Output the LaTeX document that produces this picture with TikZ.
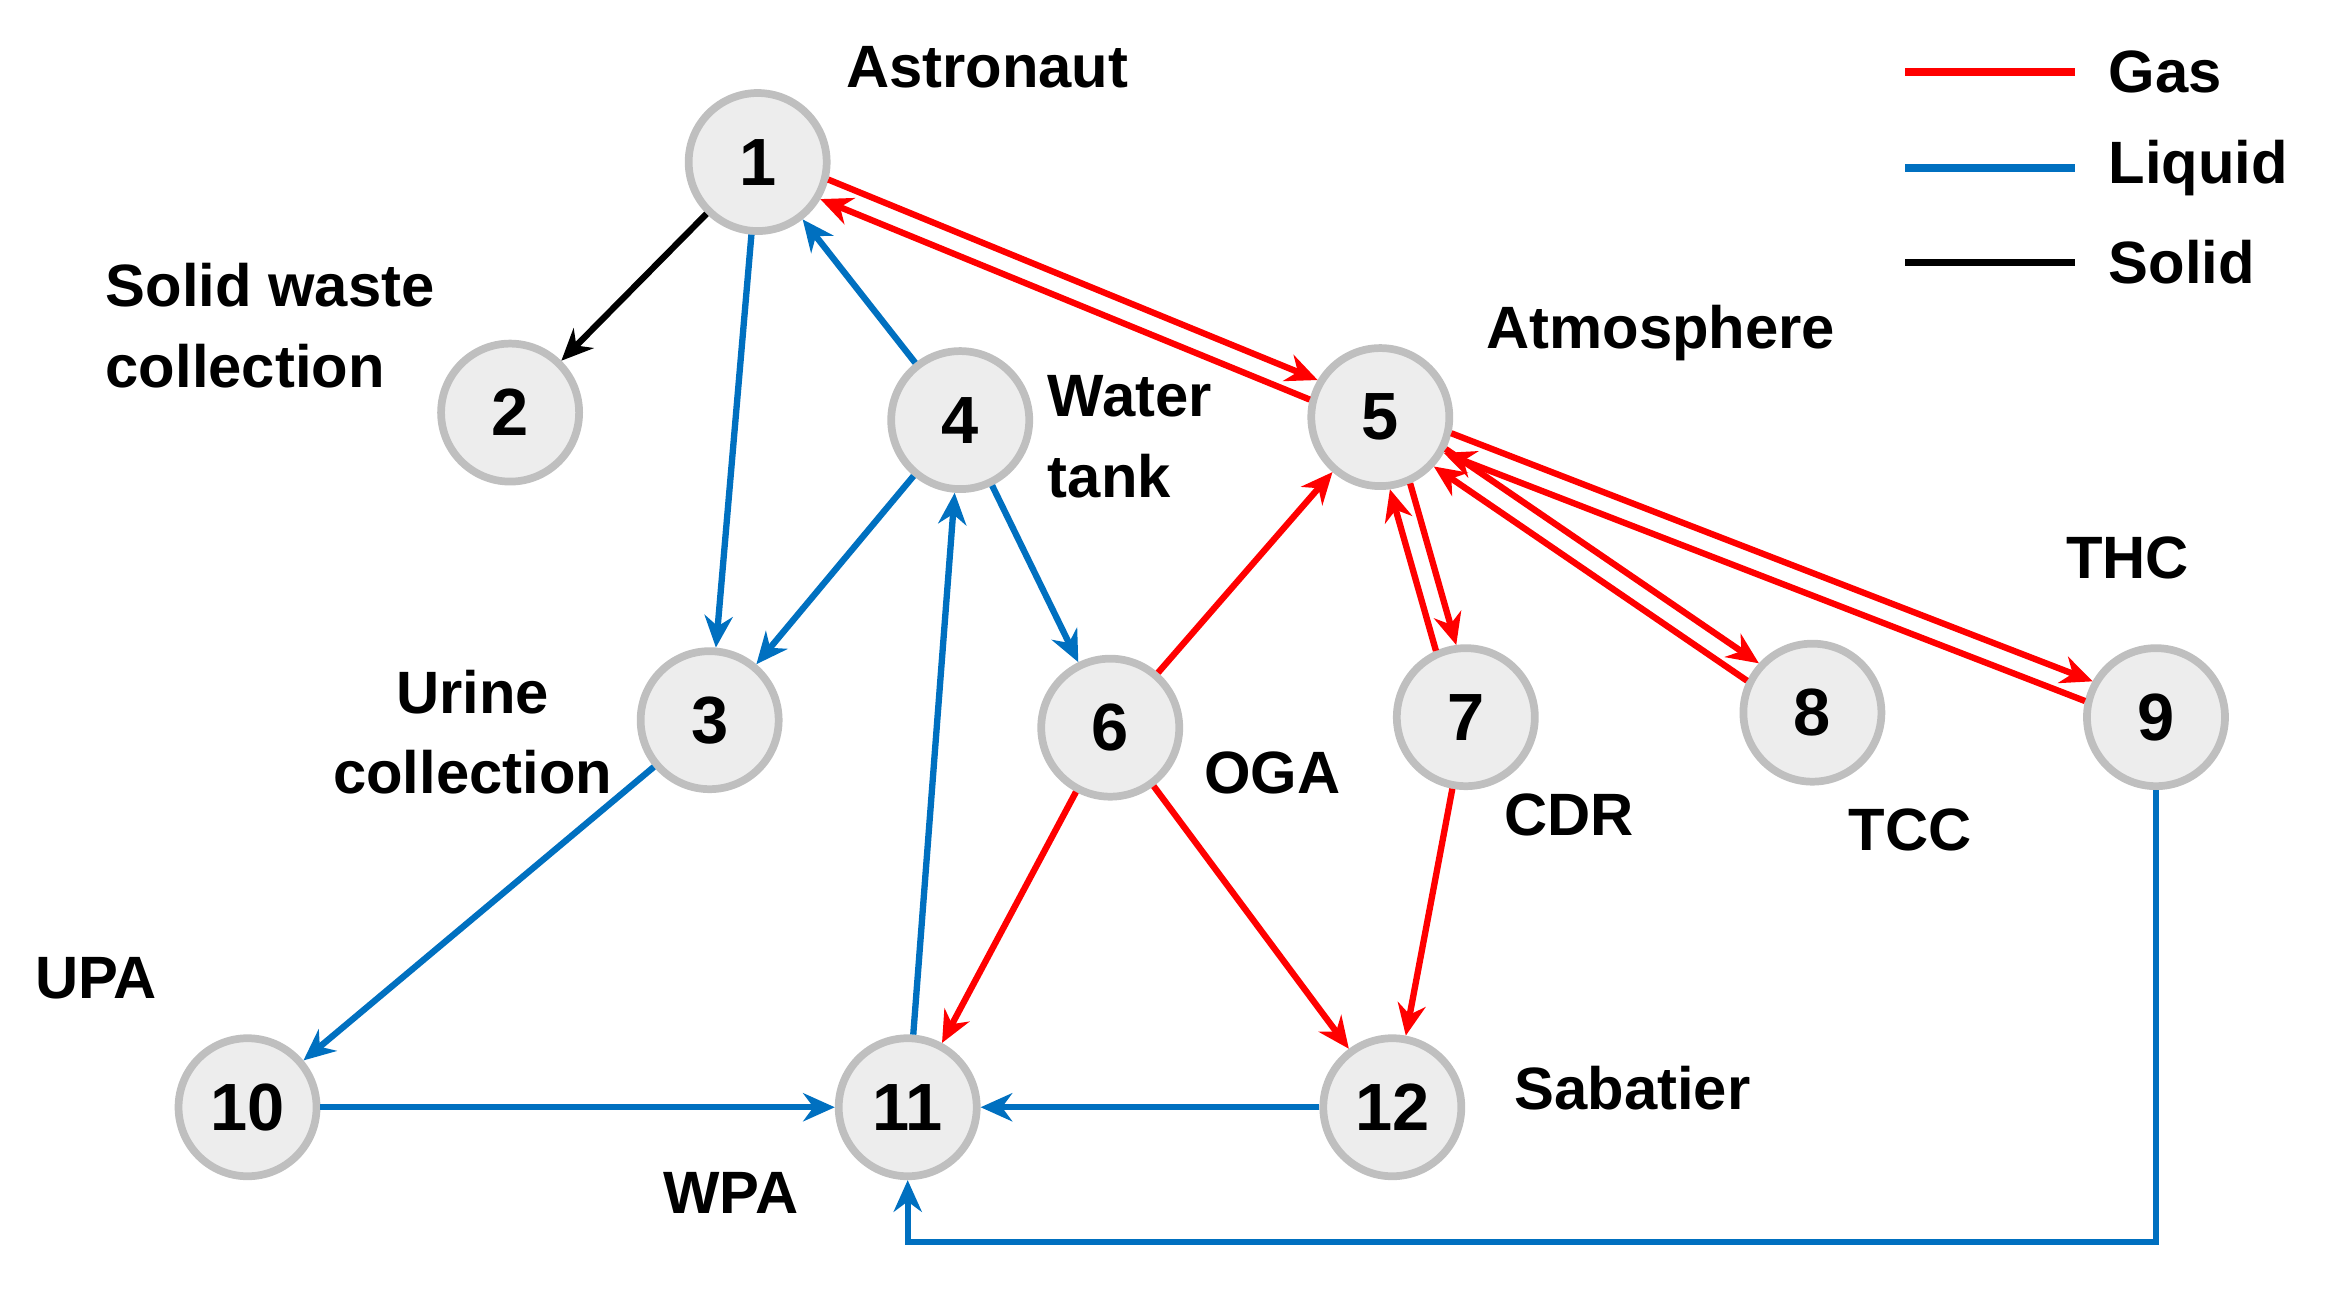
\documentclass[tikz,border=0pt]{standalone}
\usepackage{fontspec}
\setmainfont{Liberation Sans}
\usetikzlibrary{arrows.meta,calc}
\definecolor{gasred}{RGB}{255,0,0}
\definecolor{liqblue}{RGB}{0,112,192}
\tikzset{
  unit/.style={circle, draw=black!25, fill=black!7, line width=2.2pt, minimum size=1.38cm, inner sep=0pt, font=\fontsize{19}{22}\selectfont\bfseries},
  lbl/.style={font=\fontsize{17}{20}\selectfont\bfseries, align=left, inner sep=0pt},
  gas/.style={draw=gasred, line width=1.8pt, -{Stealth[length=9pt,width=8pt]}},
  liquid/.style={draw=liqblue, line width=1.8pt, -{Stealth[length=9pt,width=8pt]}},
  solid/.style={draw=black, line width=1.8pt, -{Stealth[length=9pt,width=8pt]}}
}
% two opposite gas lines between two units
\newcommand\gaspair[2]{%
  \draw[gas, shorten >=0.72cm, shorten <=0.72cm] ($(#1)!3pt!90:(#2)$) -- ($(#2)!3pt!-90:(#1)$);
  \draw[gas, shorten >=0.72cm, shorten <=0.72cm] ($(#2)!3pt!90:(#1)$) -- ($(#1)!3pt!-90:(#2)$);}
\begin{document}
\begin{tikzpicture}[x=0.015cm, y=-0.015cm]
\useasboundingbox (0,0) rectangle (1561,861);
% units
\node[unit] (n1) at (505,108) {1};
\node[unit] (n2) at (340,275) {2};
\node[unit] (n3) at (473,480) {3};
\node[unit] (n4) at (640,280) {4};
\node[unit] (n5) at (920,278) {5};
\node[unit] (n6) at (740,485) {6};
\node[unit] (n7) at (977,478) {7};
\node[unit] (n8) at (1208,475) {8};
\node[unit] (n9) at (1437,478) {9};
\node[unit] (n10) at (165,738) {10};
\node[unit] (n11) at (605,738) {11};
\node[unit] (n12) at (928,738) {12};
% labels
\node[lbl] (l1) at (658,45) {Astronaut};
\node[lbl, anchor=west] (l2) at (70,217) {Solid waste\\[3pt]collection};
\node[lbl, align=center] (l3) at (315,488) {Urine\\[3pt]collection};
\node[lbl, anchor=west] (l4) at (698,291) {Water\\[3pt]tank};
\node[lbl] (l5) at (1107,222) {Atmosphere};
\node[lbl] (l6) at (848,515) {OGA};
\node[lbl] (l7) at (1046,543) {CDR};
\node[lbl] (l8) at (1273,553) {TCC};
\node[lbl] (l9) at (1418,372) {THC};
\node[lbl] (l10) at (64,652) {UPA};
\node[lbl] (l11) at (487,795) {WPA};
\node[lbl] (l12) at (1088,725) {Sabatier};
% legend
\coordinate (g0) at (1270,48); \coordinate (g1) at (1383,48);
\coordinate (q0) at (1270,112); \coordinate (q1) at (1383,112);
\coordinate (s0) at (1270,175); \coordinate (s1) at (1383,175);
\draw[gasred, line width=2.2pt] (g0) -- (g1);
\draw[liqblue, line width=2.2pt] (q0) -- (q1);
\draw[black, line width=2.2pt] (s0) -- (s1);
\node[lbl, anchor=west] (tg) at (1405,48) {Gas};
\node[lbl, anchor=west] (tq) at (1405,112) {Liquid};
\node[lbl, anchor=west] (ts) at (1405,175) {Solid};
% solid
\draw[solid] (n1) -- (n2);
% liquid
\draw[liquid] (n1) -- (n3);
\draw[liquid] (n4) -- (n1);
\draw[liquid] (n4) -- (n3);
\draw[liquid] (n4) -- (n6);
\draw[liquid] (n3) -- (n10);
\draw[liquid] (n10) -- (n11);
\draw[liquid] (n11) -- (n4);
\draw[liquid] (n12) -- (n11);
\draw[liquid] (n9) |- (605,828) -- (n11);
% gas
\gaspair{n1}{n5}
\gaspair{n5}{n7}
\gaspair{n5}{n8}
\gaspair{n5}{n9}
\draw[gas] (n6) -- (n5);
\draw[gas] (n6) -- (n11);
\draw[gas] (n6) -- (n12);
\draw[gas] (n7) -- (n12);
\end{tikzpicture}
\end{document}
